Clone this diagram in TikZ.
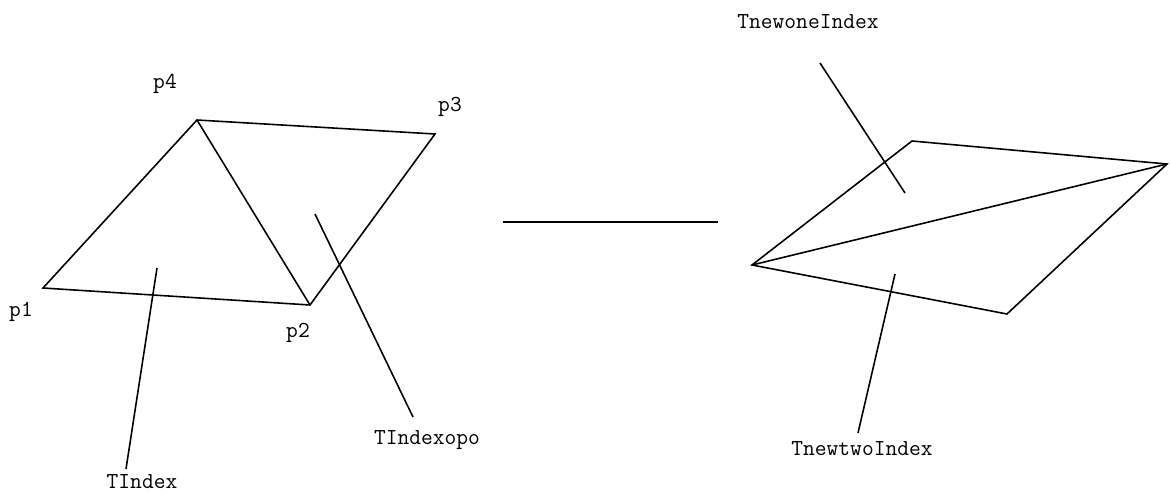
\documentclass[tikz,border=0pt]{standalone}
\tikzset{
  lbl/.style={inner sep=0pt, font=\ttfamily\fontsize{13}{15}\selectfont},
  edge/.style={line width=0.9pt, line join=miter},
}

\begin{document}
\begin{tikzpicture}[x=0.02cm,y=-0.02cm]
\useasboundingbox (0,0) rectangle (1171,494);
% left quadrilateral
\coordinate (p1) at (43,288);
\coordinate (p2) at (310,305);
\coordinate (p3) at (435,134);
\coordinate (p4) at (197,120);
\draw[edge] (p1) -- (p2) -- (p3) -- (p4) -- cycle;
\draw[edge] (p4) -- (p2);
\node[lbl] (p1lbl) at (21,312) {p1};
\node[lbl] (p2lbl) at (298,333) {p2};
\node[lbl] (p3lbl) at (450,107) {p3};
\node[lbl] (p4lbl) at (165,84) {p4};
% leaders of the left triangles
\coordinate (tIndexTop) at (157,268);
\coordinate (tIndexEnd) at (126,469);
\coordinate (tOpoTop) at (315,214);
\coordinate (tOpoEnd) at (413,417);
\draw[edge] (tIndexTop) -- (tIndexEnd);
\draw[edge] (tOpoTop) -- (tOpoEnd);
\node[lbl] (tIndex) at (142,482) {TIndex};
\node[lbl] (tOpo) at (427,440) {TIndexopo};
% middle line
\coordinate (midL) at (503,222);
\coordinate (midR) at (718,222);
\draw[edge] (midL) -- (midR);
% right quadrilateral
\coordinate (q1) at (752,265);
\coordinate (q2) at (1007,314);
\coordinate (q3) at (1167,164);
\coordinate (q4) at (912,141);
\draw[edge] (q1) -- (q2) -- (q3) -- (q4) -- cycle;
\draw[edge] (q1) -- (q3);
% leaders of the right triangles
\coordinate (tOneTop) at (820,63);
\coordinate (tOneEnd) at (905,193);
\coordinate (tTwoTop) at (895,274);
\coordinate (tTwoEnd) at (858,433);
\draw[edge] (tOneTop) -- (tOneEnd);
\draw[edge] (tTwoTop) -- (tTwoEnd);
\node[lbl] (tOne) at (808,22) {TnewoneIndex};
\node[lbl] (tTwo) at (862,449) {TnewtwoIndex};
\end{tikzpicture}
\end{document}
